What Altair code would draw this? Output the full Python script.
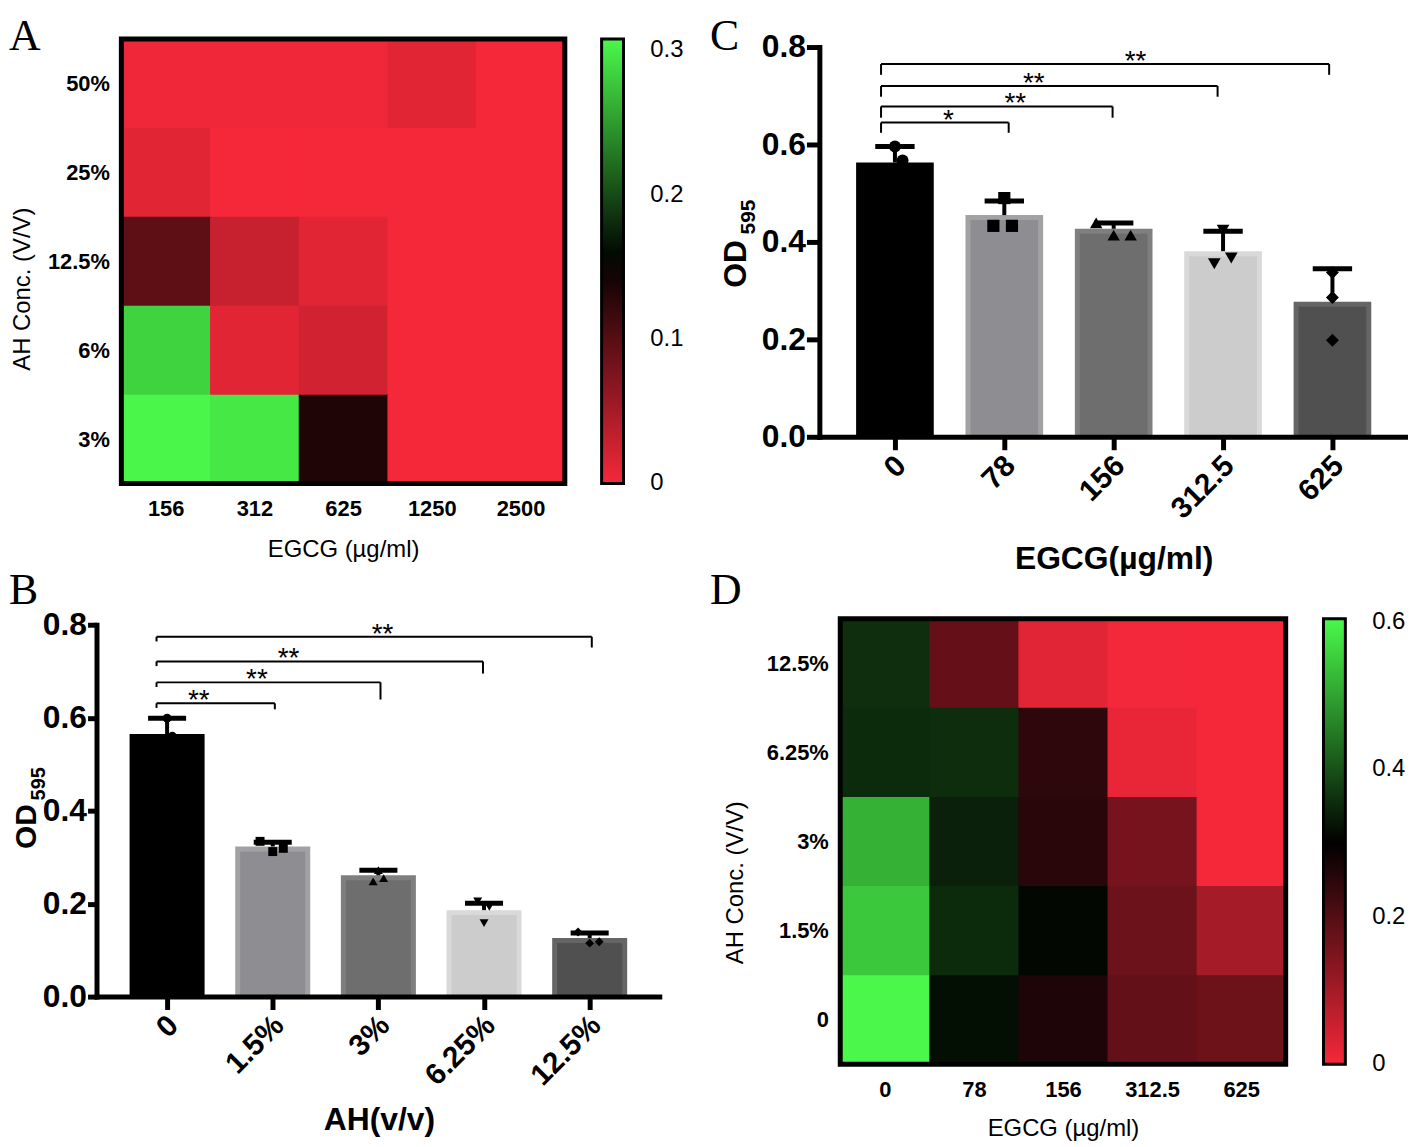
import json
import altair as alt
import pandas as pd

OFF = 8
W = 1416 - OFF
H = 1147 - OFF


def px(v):
    return v - OFF


SANS = "Liberation Sans"
SERIF = "Liberation Serif"

# ---------------- Panel A : checkerboard (AH x EGCG) ----------------
a_egcg = ["156", "312", "625", "1250", "2500"]
a_ah = ["50%", "25%", "12.5%", "6%", "3%"]
a_od = [
    [0.003, 0.003, 0.003, 0.012, 0.0],
    [0.012, 0.0, 0.0, 0.0, 0.0],
    [0.095, 0.029, 0.012, 0.0, 0.0],
    [0.285, 0.012, 0.023, 0.0, 0.0],
    [0.306, 0.297, 0.134, 0.0, 0.0],
]
a_ticks = [0.0005, 0.1, 0.2, 0.3]
a_max = 0.3076

# ---------------- Panel D : checkerboard (AH x EGCG) ----------------
d_egcg = ["0", "78", "156", "312.5", "625"]
d_ah = ["12.5%", "6.25%", "3%", "1.5%", "0"]
d_od = [
    [0.358, 0.178, 0.023, 0.002, 0.0],
    [0.353, 0.356, 0.246, 0.016, 0.0],
    [0.518, 0.341, 0.253, 0.157, 0.0],
    [0.545, 0.353, 0.310, 0.169, 0.099],
    [0.602, 0.320, 0.265, 0.179, 0.166],
]
d_ticks = [0.0005, 0.2, 0.4, 0.6]
d_max = 0.604

# ---------------- Panel C : EGCG alone ----------------
c_labels = ["0", "78", "156", "312.5", "625"]
c_means = [0.563, 0.455, 0.427, 0.381, 0.277]
c_caps = [0.596, 0.484, 0.439, 0.422, 0.345]
c_pts = [[0.596, 0.567, 0.526], [0.490, 0.433, 0.433], [0.439, 0.414, 0.414],
         [0.424, 0.355, 0.367], [0.337, 0.286, 0.198]]
c_jit = [[0.0, 0.07, -0.05], [0.0, -0.10, 0.07], [-0.16, 0.0, 0.155],
         [0.0, -0.08, 0.075], [0.0, 0.0, 0.0]]
c_br_right = [1.04, 1.99, 2.95, 3.97]
c_br_left = -0.127
c_br_y = [0.645, 0.678, 0.720, 0.765]
c_br_lleg = [0.624, 0.655, 0.698, 0.743]
c_br_rleg = [0.624, 0.655, 0.698, 0.743]
c_stars = ["*", "**", "**", "**"]
c_star_x = [0.49, 1.10, 1.27, 2.20]

# ---------------- Panel B : AH alone ----------------
b_labels = ["0", "1.5%", "3%", "6.25%", "12.5%"]
b_means = [0.565, 0.323, 0.261, 0.186, 0.126]
b_caps = [0.599, 0.332, 0.272, 0.201, 0.137]
b_pts = [[0.599, 0.560, 0.535], [0.334, 0.312, 0.319], [0.272, 0.248, 0.255],
         [0.205, 0.193, 0.158], [0.139, 0.115, 0.118]]
b_jit = [[0.0, 0.05, -0.05], [-0.12, 0.0, 0.10], [0.0, -0.05, 0.05],
         [-0.06, 0.05, 0.0], [-0.11, 0.0, 0.09]]
b_br_right = [1.02, 2.02, 2.99, 4.02]
b_br_left = -0.10
b_br_y = [0.631, 0.676, 0.721, 0.774]
b_br_lleg = [0.621, 0.666, 0.711, 0.764]
b_br_rleg = [0.618, 0.639, 0.695, 0.751]
b_stars = ["**", "**", "**", "**"]
b_star_x = [0.30, 0.85, 1.15, 2.04]

# ---------------- styles ----------------
RED, BLACK, GREEN = "#F5283A", "#000000", "#4AF94A"
BAR_FILL = ["#000000", "#8E8E92", "#6E6E6E", "#CCCCCC", "#505050"]
BAR_EDGE = ["#000000", "#A2A2A5", "#7F7F7F", "#D9D9D9", "#656565"]
SHAPES = ["circle", "square", "triangle-up", "triangle-down", "diamond"]
BAR_HALF = 0.355
CAP_HALF = 0.18
EDGE = 5


def labexpr(labels):
    return json.dumps(labels) + "[datum.value]"


def heatmap(cols, rows, vals, vmax, ticks, box, legend_xy, xtitle_base, ytitle_base, ytitle_cy):
    left, top, right, bottom = box
    recs = [{"ci": ci, "ri": ri, "od": vals[ri][ci]}
            for ri in range(len(rows)) for ci in range(len(cols))]
    xs = alt.Scale(domain=[-0.5, len(cols) - 0.5], range=[px(left), px(right)], nice=False, zero=False)
    ys = alt.Scale(domain=[-0.5, len(rows) - 0.5], range=[px(top), px(bottom)], nice=False, zero=False)
    cscale = alt.Scale(domain=[0, vmax / 2, vmax], range=[RED, BLACK, GREEN], interpolate="rgb")
    xaxis = alt.Axis(
        orient="bottom", offset=px(bottom) - H, values=list(range(len(cols))), labelExpr=labexpr(cols),
        grid=False, domain=False, ticks=False, tickSize=0, labelPadding=15, labelAngle=0,
        labelAlign="center", labelBaseline="top", labelFont=SANS, labelFontSize=22,
        labelFontWeight="bold", labelColor="black", labelFlush=False, labelOverlap=False,
        title="EGCG (µg/ml)", titleFont=SANS, titleFontSize=24, titleFontWeight="normal",
        titleColor="black", titleX=px((left + right) / 2), titleY=xtitle_base - bottom,
        titleAlign="center", titleBaseline="alphabetic", titleAngle=0,
    )
    yaxis = alt.Axis(
        orient="left", offset=-px(left), values=list(range(len(rows))), labelExpr=labexpr(rows),
        grid=False, domain=False, ticks=False, tickSize=0, labelPadding=12, labelAngle=0,
        labelAlign="right", labelBaseline="middle", labelFont=SANS, labelFontSize=22,
        labelFontWeight="bold", labelColor="black", labelFlush=False, labelOverlap=False,
        title="AH Conc. (V/V)", titleFont=SANS, titleFontSize=24, titleFontWeight="normal",
        titleColor="black", titleAngle=270, titleX=ytitle_base - left, titleY=px(ytitle_cy),
        titleAlign="center", titleBaseline="alphabetic",
    )
    legend = alt.Legend(
        type="gradient", orient="none", legendX=px(legend_xy[0]), legendY=px(legend_xy[1]),
        direction="vertical", gradientLength=bottom - top, gradientThickness=22,
        gradientStrokeColor="black", gradientStrokeWidth=3, values=ticks, format=".1~f",
        labelFont=SANS, labelFontSize=24, labelColor="black", labelOffset=27,
        labelBaseline="middle", labelOverlap=False, title=None, padding=0,
    )
    cells = alt.Chart(pd.DataFrame(recs)).transform_calculate(
        x0="datum.ci - 0.5", x1="datum.ci + 0.51", y0="datum.ri - 0.5", y1="datum.ri + 0.51"
    ).mark_rect().encode(
        x=alt.X("x0:Q", scale=xs, axis=xaxis), x2="x1:Q",
        y=alt.Y("y0:Q", scale=ys, axis=yaxis), y2="y1:Q",
        color=alt.Color("od:Q", scale=cscale, legend=legend),
    )
    frame = alt.Chart(pd.DataFrame({"lo": [-0.5], "xh": [len(cols) - 0.5], "yh": [len(rows) - 0.5]})).mark_rect(
        fillOpacity=0, stroke="black", strokeWidth=5
    ).encode(
        x=alt.X("lo:Q", scale=xs, axis=None), x2="xh:Q",
        y=alt.Y("lo:Q", scale=ys, axis=None), y2="yh:Q",
    )
    return [cells, frame]


def barpanel(labels, means, caps, pts, jit, br_right, br_left, br_y, br_lleg, br_rleg, stars, star_x,
             geo, xtitle, sizes):
    n = len(labels)
    c0, step = geo["c0"], geo["step"]
    xs = alt.Scale(domain=[(geo["axis_x"] - c0) / step, (geo["xend"] - c0) / step],
                   range=[px(geo["axis_x"]), px(geo["xend"])], nice=False, zero=False)
    ys = alt.Scale(domain=[0, 0.8], range=[px(geo["y0"]), px(geo["y8"])], nice=False, zero=False)
    xaxis = alt.Axis(
        orient="bottom", offset=px(geo["y0"]) - H, values=list(range(n)), labelExpr=labexpr(labels),
        grid=False, domainColor="black", domainWidth=5, domainCap="square", tickColor="black",
        tickWidth=5, tickSize=13, labelAngle=-45, labelAlign="right", labelBaseline="middle",
        labelPadding=11, labelOffset=6, labelFont=SANS, labelFontSize=30, labelFontWeight="bold",
        labelColor="black", labelFlush=False, labelOverlap=False, title=xtitle, titleFont=SANS,
        titleFontSize=32, titleFontWeight="bold", titleColor="black", titleX=px(geo["tcx"]),
        titleY=geo["tbase"] - geo["y0"], titleAlign="center", titleBaseline="alphabetic",
        titleAngle=0, zindex=2,
    )
    yaxis = alt.Axis(
        orient="left", offset=-px(geo["axis_x"]), values=[0, 0.2, 0.4, 0.6, 0.8], format=".1f",
        grid=False, domainColor="black", domainWidth=5, domainCap="square", tickColor="black",
        tickWidth=5, tickSize=geo["ytick"], labelPadding=1, labelFont=SANS, labelFontSize=32,
        labelFontWeight="bold", labelColor="black", labelFlush=False, labelOverlap=False,
        title=None, zindex=2,
    )
    bdf = pd.DataFrame({"pos": list(range(n)), "lab": labels, "mean": means, "cap": caps})
    prec = []
    for i in range(n):
        for j in range(len(pts[i])):
            prec.append({"lab": labels[i], "px": i + jit[i][j], "val": pts[i][j]})
    pdf = pd.DataFrame(prec)
    rdf = pd.DataFrame({"bl": [br_left] * len(br_y), "br": br_right, "by": br_y, "ll": br_lleg,
                        "rl": br_rleg, "star": stars, "sx": star_x})

    barbase = alt.Chart(bdf).transform_calculate(
        lo=f"datum.pos - {BAR_HALF}", hi=f"datum.pos + {BAR_HALF}", base="0"
    )
    outer = barbase.mark_rect().encode(
        x=alt.X("lo:Q", scale=xs, axis=xaxis), x2="hi:Q",
        y=alt.Y("mean:Q", scale=ys, axis=yaxis), y2="base:Q",
        fill=alt.Fill("lab:N", scale=alt.Scale(domain=labels, range=BAR_EDGE), legend=None),
    )
    inner = barbase.mark_rect(xOffset=EDGE, x2Offset=-EDGE, yOffset=EDGE).encode(
        x=alt.X("lo:Q", scale=xs, axis=None), x2="hi:Q",
        y=alt.Y("mean:Q", scale=ys, axis=None), y2="base:Q",
        fill=alt.Fill("lab:N", scale=alt.Scale(domain=labels, range=BAR_FILL), legend=None),
    )
    err = alt.Chart(bdf).mark_rule(color="black", strokeWidth=4).encode(
        x=alt.X("pos:Q", scale=xs, axis=None), y=alt.Y("mean:Q", scale=ys, axis=None), y2="cap:Q"
    )
    capr = alt.Chart(bdf).transform_calculate(
        cl=f"datum.pos - {CAP_HALF}", cr=f"datum.pos + {CAP_HALF}"
    ).mark_rule(color="black", strokeWidth=5).encode(
        x=alt.X("cl:Q", scale=xs, axis=None), x2="cr:Q", y=alt.Y("cap:Q", scale=ys, axis=None)
    )
    dots = alt.Chart(pdf).mark_point(filled=True, opacity=1, color="black").encode(
        x=alt.X("px:Q", scale=xs, axis=None), y=alt.Y("val:Q", scale=ys, axis=None),
        shape=alt.Shape("lab:N", scale=alt.Scale(domain=labels, range=SHAPES), legend=None),
        size=alt.Size("lab:N", scale=alt.Scale(domain=labels, range=sizes), legend=None),
    )
    hline = alt.Chart(rdf).mark_rule(color="black", strokeWidth=2).encode(
        x=alt.X("bl:Q", scale=xs, axis=None), x2="br:Q", y=alt.Y("by:Q", scale=ys, axis=None)
    )
    lleg = alt.Chart(rdf).mark_rule(color="black", strokeWidth=2).encode(
        x=alt.X("bl:Q", scale=xs, axis=None), y=alt.Y("by:Q", scale=ys, axis=None), y2="ll:Q"
    )
    rleg = alt.Chart(rdf).mark_rule(color="black", strokeWidth=2).encode(
        x=alt.X("br:Q", scale=xs, axis=None), y=alt.Y("by:Q", scale=ys, axis=None), y2="rl:Q"
    )
    star = alt.Chart(rdf).mark_text(font=SANS, fontSize=28, color="black", align="center",
                                    baseline="alphabetic", dy=6).encode(
        x=alt.X("sx:Q", scale=xs, axis=None), y=alt.Y("by:Q", scale=ys, axis=None), text="star:N"
    )
    return [outer, inner, err, capr, dots, hline, lleg, rleg, star]


def label(text, x, y, size, font=SANS, weight="normal", angle=0, align="left", baseline="alphabetic"):
    return alt.Chart(pd.DataFrame({"t": [text]})).mark_text(
        font=font, fontSize=size, fontWeight=weight, angle=angle, align=align, baseline=baseline,
        color="black"
    ).encode(x=alt.value(px(x)), y=alt.value(px(y)), text="t:N")


panelA = heatmap(a_egcg, a_ah, a_od, a_max, a_ticks, (122, 36, 568, 483), (605, 36),
                 xtitle_base=556, ytitle_base=30, ytitle_cy=287)
panelD = heatmap(d_egcg, d_ah, d_od, d_max, d_ticks, (845, 619, 1293, 1067), (1331, 619),
                 xtitle_base=1139, ytitle_base=747, ytitle_cy=884)

panelC = barpanel(c_labels, c_means, c_caps, c_pts, c_jit, c_br_right, c_br_left, c_br_y,
                  c_br_lleg, c_br_rleg, c_stars, c_star_x,
                  dict(axis_x=824, xend=1413, c0=900, step=110, y0=436, y8=44, tcx=1120, tbase=568,
                       ytick=13),
                  "EGCG(µg/ml)", [144, 169, 225, 225, 144])
panelB = barpanel(b_labels, b_means, b_caps, b_pts, b_jit, b_br_right, b_br_left, b_br_y,
                  b_br_lleg, b_br_rleg, b_stars, b_star_x,
                  dict(axis_x=97, xend=663, c0=168, step=106.25, y0=999, y8=625, tcx=381, tbase=1133,
                       ytick=9),
                  "AH(v/v)", [81, 81, 100, 100, 100])

texts = [
    label("A", 9, 47, 44, font=SERIF),
    label("B", 9, 604, 44, font=SERIF),
    label("C", 714, 47, 44, font=SERIF),
    label("D", 714, 604, 44, font=SERIF),
    label("OD", 740, 262, 32, weight="bold", angle=270, align="center", baseline="middle"),
    label("595", 753, 215, 21, weight="bold", angle=270, align="center", baseline="middle"),
    label("OD", 27, 828, 30, weight="bold", angle=270, align="center", baseline="middle"),
    label("595", 39, 785, 20, weight="bold", angle=270, align="center", baseline="middle"),
]

chart = alt.layer(*panelA, *panelC, *panelB, *panelD, *texts).resolve_scale(
    x="independent", y="independent", color="independent", fill="independent",
    stroke="independent", shape="independent", size="independent",
).properties(
    width=W, height=H, autosize=alt.AutoSizeParams(type="none"), padding=0, background="white"
).configure_view(strokeWidth=0)

chart.save("out.html", embed_options={"renderer": "svg", "actions": False})
